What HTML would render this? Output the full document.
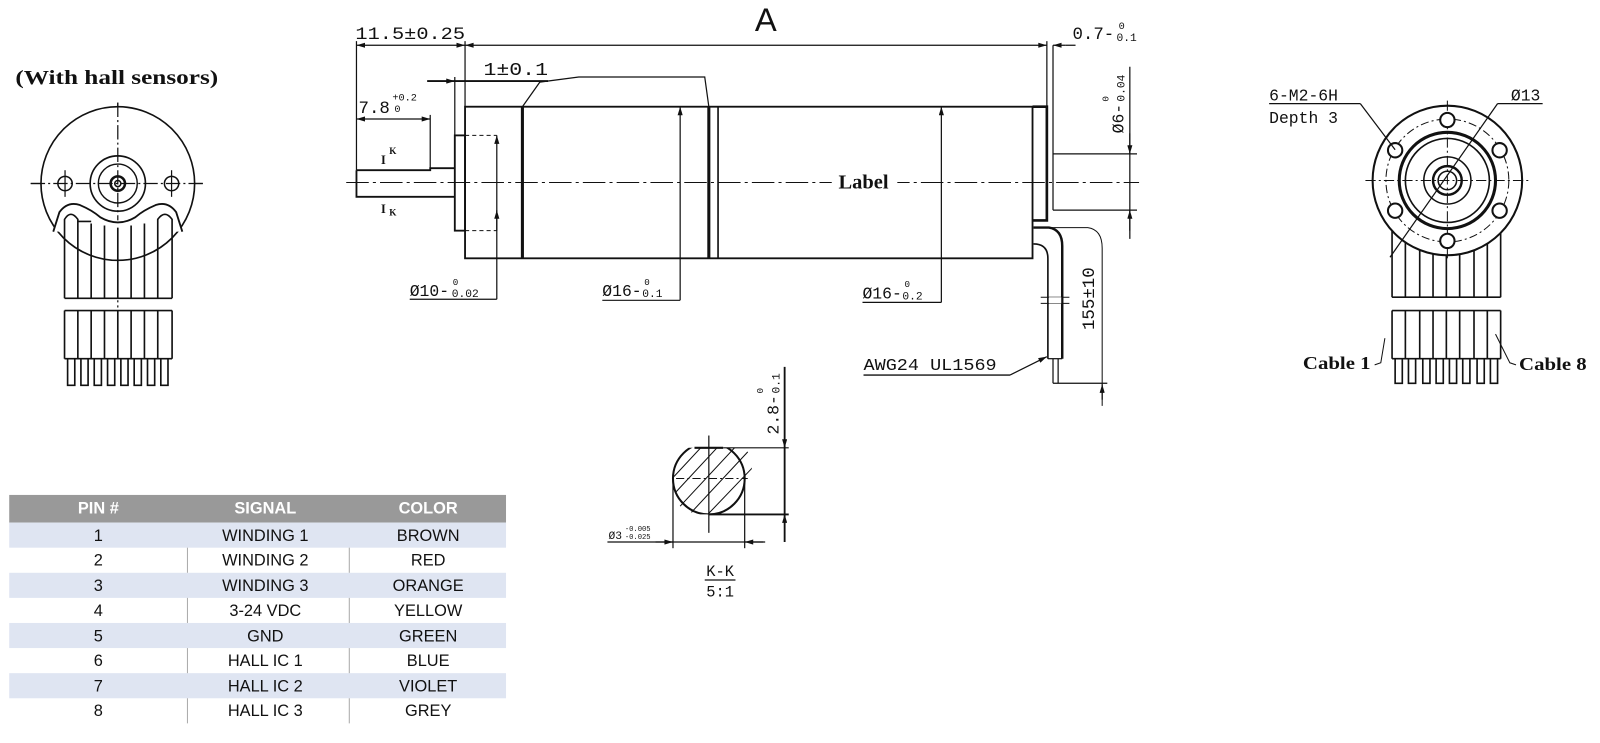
<!DOCTYPE html>
<html><head><meta charset="utf-8"><style>
html,body{margin:0;padding:0;background:#fff;}
svg{display:block;}
.t{font-family:"Liberation Mono",monospace;fill:#111;}
.s{font-family:"Liberation Serif",serif;font-weight:bold;fill:#111;}
.c{font-family:"Liberation Sans",sans-serif;fill:#111;font-size:16px;text-anchor:middle;}
</style></head><body>
<svg width="1600" height="743" viewBox="0 0 1562 725" xmlns="http://www.w3.org/2000/svg">
<defs>
<marker id="a" viewBox="0 0 10 6" refX="10" refY="3" markerWidth="9" markerHeight="5" orient="auto-start-reverse" markerUnits="userSpaceOnUse"><path d="M0,0 L10,3 L0,6z" fill="#111"/></marker>
</defs>
<g stroke="#111" fill="none" stroke-width="1.2">

<!-- ===== LEFT VIEW ===== -->
<line x1="30" y1="179" x2="200" y2="179" stroke-dasharray="14,3,2,3"/>
<line x1="115" y1="100" x2="115" y2="300" stroke-dasharray="14,3,2,3"/>
<circle cx="115" cy="179" r="75" stroke-width="1.6" fill="#fff"/>
<line x1="30" y1="179" x2="200" y2="179" stroke-dasharray="14,3,2,3"/>
<line x1="115" y1="100" x2="115" y2="215" stroke-dasharray="14,3,2,3"/>
<circle cx="115" cy="179" r="27" stroke-width="1.6"/>
<circle cx="115" cy="179" r="19" stroke-width="1.4"/>
<circle cx="115" cy="179" r="7" stroke-width="2.5"/>
<circle cx="115" cy="179" r="3" stroke-width="1.5"/>
<circle cx="63.5" cy="179" r="7" stroke-width="1.5"/>
<circle cx="167.5" cy="179" r="7" stroke-width="1.5"/>
<line x1="63.5" y1="166" x2="63.5" y2="192"/><line x1="167.5" y1="166" x2="167.5" y2="192"/>
<path d="M52,226 L58,207 Q66,196 78,200 Q90,205 98,212 Q115,222 132,212 Q140,205 152,200 Q164,196 172,207 L178,226" stroke-width="1.8" fill="#fff"/>
<g stroke-width="1.6">
<path d="M63,291 L63,214 Q69,204 76,214 L76,291 M76,216 L89,216 M89,291 L89,218 M102,291 L102,220 M115,291 L115,222 M128,291 L128,220 M141,291 L141,218 M154,291 L154,214 Q161,204 168,214 L168,291"/>
<line x1="63" y1="291" x2="168" y2="291"/>
<line x1="63" y1="303" x2="168" y2="303"/>
<path d="M63,303V350M76,303V350M89,303V350M102,303V350M115,303V350M128,303V350M141,303V350M154,303V350M168,303V350"/>
<line x1="63" y1="350" x2="168" y2="350"/>
<path d="M66,350V376H73V350M79,350V376H86V350M92,350V376H99V350M105,350V376H112V350M118,350V376H125V350M131,350V376H138V350M144,350V376H151V350M157,350V376H164V350"/>
</g>

<!-- ===== MAIN VIEW ===== -->
<line x1="338" y1="178" x2="1112" y2="178" stroke-dasharray="22,4,3,4" stroke-width="1"/>
<path d="M348,166 L348,192 L444,192 M348,166 L420,166 L420,164 L444,164" stroke-width="1.8"/>
<rect x="444" y="132" width="10" height="93" stroke-width="1.8"/>
<rect x="454" y="104" width="554" height="148" stroke-width="1.8"/>
<line x1="510" y1="104" x2="510" y2="252" stroke-width="3"/>
<line x1="692" y1="104" x2="692" y2="252" stroke-width="3"/>
<line x1="701" y1="104" x2="701" y2="252" stroke-width="1.6"/>
<path d="M1008,104 L1022,104 L1022,215 L1008,215" stroke-width="2.6"/>
<line x1="1028" y1="44" x2="1028" y2="205"/>
<line x1="1022" y1="40" x2="1022" y2="104"/>
<line x1="1028" y1="150" x2="1110" y2="150"/>
<line x1="1028" y1="205" x2="1110" y2="205"/>
<path d="M454,132 L485,132 M454,225 L485,225" stroke-dasharray="4,3" stroke-width="1"/>
<line x1="348" y1="40" x2="348" y2="166"/>
<line x1="454" y1="40" x2="454" y2="104"/>
<line x1="348" y1="44" x2="454" y2="44" marker-start="url(#a)" marker-end="url(#a)"/>
<line x1="454" y1="44" x2="1022" y2="44" marker-start="url(#a)" marker-end="url(#a)"/>
<line x1="1040" y1="44" x2="1028" y2="44" marker-end="url(#a)"/>
<line x1="1040" y1="44" x2="1050" y2="44"/>
<text class="t" x="347" y="38" font-size="17" textLength="107" lengthAdjust="spacingAndGlyphs" stroke="none">11.5±0.25</text>
<text x="737" y="30" font-family="Liberation Sans,sans-serif" font-size="32" fill="#111" stroke="none">A</text>
<text class="t" x="1047" y="38" font-size="17" stroke="none">0.7-</text>
<text class="t" x="1092" y="28" font-size="10" stroke="none">0</text>
<text class="t" x="1090" y="40" font-size="11" stroke="none">0.1</text>
<line x1="444" y1="75" x2="444" y2="132"/>
<line x1="417" y1="79" x2="535" y2="79" stroke-width="1.8"/>
<line x1="425" y1="79" x2="444" y2="79" marker-end="url(#a)"/>
<text class="t" x="472" y="73" font-size="18" textLength="63" lengthAdjust="spacingAndGlyphs" stroke="none">1±0.1</text>
<path d="M510,104 L527,80 L565,75 L688,75 L692,104"/>
<line x1="420" y1="112" x2="420" y2="164"/>
<line x1="348" y1="116" x2="420" y2="116" marker-start="url(#a)" marker-end="url(#a)"/>
<text class="t" x="350" y="110" font-size="17" stroke="none">7.8</text>
<text class="t" x="383" y="98" font-size="10" stroke="none">+0.2</text>
<text class="t" x="385" y="109" font-size="10" stroke="none">0</text>
<text class="s" x="372" y="160" font-size="12" stroke="none">I</text><text class="s" x="380" y="150" font-size="9" stroke="none">K</text>
<text class="s" x="372" y="208" font-size="12" stroke="none">I</text><text class="s" x="380" y="210" font-size="9" stroke="none">K</text>
<line x1="485" y1="132" x2="485" y2="292" marker-start="url(#a)"/>
<line x1="485" y1="225" x2="485" y2="205" marker-end="url(#a)"/>
<line x1="400" y1="292" x2="485" y2="292"/>
<text class="t" x="400" y="289" font-size="16" stroke="none">Ø10-</text>
<text class="t" x="442" y="278" font-size="9" stroke="none">0</text>
<text class="t" x="441" y="290" font-size="11" stroke="none">0.02</text>
<line x1="664" y1="104" x2="664" y2="293" marker-start="url(#a)"/>
<line x1="588" y1="293" x2="664" y2="293"/>
<text class="t" x="588" y="289" font-size="16" stroke="none">Ø16-</text>
<text class="t" x="629" y="278" font-size="9" stroke="none">0</text>
<text class="t" x="627" y="290" font-size="11" stroke="none">0.1</text>
<line x1="919" y1="104" x2="919" y2="295" marker-start="url(#a)"/>
<line x1="842" y1="295" x2="919" y2="295"/>
<text class="t" x="842" y="291" font-size="16" stroke="none">Ø16-</text>
<text class="t" x="883" y="280" font-size="9" stroke="none">0</text>
<text class="t" x="881" y="292" font-size="11" stroke="none">0.2</text>
<rect x="812" y="165" width="64" height="24" fill="#fff" stroke="none"/>
<text class="s" x="843" y="184" font-size="20" text-anchor="middle" stroke="none">Label</text>
<line x1="1103" y1="65" x2="1103" y2="233"/>
<line x1="1103" y1="130" x2="1103" y2="150" marker-end="url(#a)"/>
<line x1="1103" y1="225" x2="1103" y2="205" marker-end="url(#a)"/>
<text class="t" font-size="16" transform="translate(1097,130) rotate(-90)" stroke="none">Ø6-</text>
<text class="t" font-size="9" transform="translate(1082,99) rotate(-90)" stroke="none">0</text>
<text class="t" font-size="11" transform="translate(1098,99) rotate(-90)" stroke="none">0.04</text>
<path d="M1009,222 L1024,222 Q1037,224 1037,240 L1037,350" stroke-width="2.4"/>
<path d="M1009,238 Q1023,238 1023,252 L1023,350" stroke-width="1.6"/>
<path d="M1016,290 L1044,290 M1016,296 L1044,296" stroke-width="1"/>
<rect x="1024" y="290" width="12" height="6" fill="#fff" stroke="none"/>
<line x1="1023" y1="350" x2="1037" y2="350"/>
<path d="M1028,350 V374 M1033,350 V374" stroke-width="1.2"/>
<line x1="1028" y1="374" x2="1081" y2="374"/>
<path d="M1022,222 L1062,222 Q1076,224 1076,242 L1076,396" stroke-width="1"/>
<line x1="1076" y1="390" x2="1076" y2="375" marker-end="url(#a)"/>
<text class="t" font-size="17" transform="translate(1068,322) rotate(-90)" stroke="none">155±10</text>
<line x1="843" y1="366" x2="986" y2="366" stroke-width="1.4"/>
<line x1="986" y1="366" x2="1022" y2="348" marker-end="url(#a)"/>
<text class="t" x="843" y="361" font-size="16" textLength="130" lengthAdjust="spacingAndGlyphs" stroke="none">AWG24 UL1569</text>

<!-- ===== SECTION K-K ===== -->
<line x1="660" y1="467" x2="730" y2="467" stroke-dasharray="8,3,2,3" stroke-width="1"/>
<line x1="692" y1="425" x2="692" y2="520"/>
<clipPath id="kk"><path d="M650,437 L734,437 L734,502 L650,502z"/></clipPath>
<g clip-path="url(#kk)">
<circle cx="692" cy="467" r="35" stroke-width="2"/>
<path d="M660,480 L700,437 M664,494 L718,436 M675,500 L730,441 M690,503 L735,456 M658,465 L685,436" stroke-width="1"/>
</g>
<line x1="678" y1="437" x2="706" y2="437" stroke-width="2"/>
<line x1="706" y1="437" x2="770" y2="437"/>
<line x1="692" y1="502" x2="770" y2="502" stroke-width="1.8"/>
<line x1="766" y1="358" x2="766" y2="529" stroke-width="1.8"/>
<line x1="766" y1="420" x2="766" y2="437" marker-end="url(#a)"/>
<line x1="766" y1="520" x2="766" y2="502" marker-end="url(#a)"/>
<text class="t" font-size="16" transform="translate(760,424) rotate(-90)" stroke="none">2.8-</text>
<text class="t" font-size="9" transform="translate(745,384) rotate(-90)" stroke="none">0</text>
<text class="t" font-size="11" transform="translate(761,384) rotate(-90)" stroke="none">0.1</text>
<line x1="657" y1="467" x2="657" y2="535"/><line x1="727" y1="467" x2="727" y2="535"/>
<line x1="593" y1="529" x2="747" y2="529"/>
<line x1="640" y1="529" x2="657" y2="529" marker-end="url(#a)"/>
<line x1="745" y1="529" x2="727" y2="529" marker-end="url(#a)"/>
<text class="t" x="594" y="526" font-size="11" stroke="none">Ø3</text>
<text class="t" x="610" y="518" font-size="7" stroke="none">-0.005</text>
<text class="t" x="610" y="526" font-size="7" stroke="none">-0.025</text>
<text class="t" x="703" y="562" font-size="15" text-anchor="middle" stroke="none">K-K</text>
<line x1="688" y1="566" x2="718" y2="566"/>
<text class="t" x="703" y="582" font-size="15" text-anchor="middle" stroke="none">5:1</text>

<!-- ===== RIGHT VIEW ===== -->
<g stroke-width="1.6">
<path d="M1359,215V290M1372,215V290M1386,215V290M1399,215V290M1412,215V290M1425,215V290M1439,215V290M1452,215V290M1465,215V290"/>
<line x1="1359" y1="290" x2="1465" y2="290"/>
<line x1="1359" y1="303" x2="1465" y2="303"/>
<path d="M1359,303V350M1372,303V350M1386,303V350M1399,303V350M1412,303V350M1425,303V350M1439,303V350M1452,303V350M1465,303V350"/>
<line x1="1359" y1="350" x2="1465" y2="350"/>
<path d="M1362,350V374H1369V350M1375,350V374H1382V350M1389,350V374H1396V350M1402,350V374H1409V350M1415,350V374H1422V350M1428,350V374H1435V350M1442,350V374H1449V350M1455,350V374H1462V350"/>
</g>
<circle cx="1413" cy="176" r="73" stroke-width="2" fill="#fff"/>
<line x1="1333" y1="176" x2="1493" y2="176" stroke-dasharray="10,3,2,3" stroke-width="1"/>
<line x1="1413" y1="98" x2="1413" y2="254" stroke-dasharray="10,3,2,3" stroke-width="1"/>
<circle cx="1413" cy="176" r="60" stroke-dasharray="8,3,2,3" stroke-width="1"/>
<circle cx="1413" cy="176" r="47" stroke-width="3"/>
<circle cx="1413" cy="176" r="41" stroke-width="1.6"/>
<circle cx="1413" cy="176" r="23" stroke-width="1.5"/>
<circle cx="1413" cy="176" r="14" stroke-width="2.4"/>
<circle cx="1413" cy="176" r="9" stroke-width="1.5"/>
<g stroke-width="2" fill="#fff">
<circle cx="1413" cy="117" r="7"/><circle cx="1413" cy="235" r="7"/>
<circle cx="1362" cy="146.5" r="7"/><circle cx="1464" cy="146.5" r="7"/>
<circle cx="1362" cy="205.5" r="7"/><circle cx="1464" cy="205.5" r="7"/>
</g>
<line x1="1239" y1="101" x2="1328" y2="101"/>
<line x1="1328" y1="101" x2="1362" y2="146"/>
<line x1="1462" y1="101" x2="1506" y2="101"/>
<line x1="1462" y1="101" x2="1357" y2="251"/>
<text class="t" x="1239" y="98" font-size="16" stroke="none">6-M2-6H</text>
<text class="t" x="1239" y="120" font-size="16" stroke="none">Depth 3</text>
<text class="t" x="1475" y="98" font-size="16" stroke="none">Ø13</text>
<path d="M1342,356 L1348,354 L1352,330" stroke-width="1"/>
<path d="M1480,356 L1474,354 L1460,326" stroke-width="1"/>
<text class="s" x="1272" y="360" font-size="17" textLength="66" lengthAdjust="spacingAndGlyphs" stroke="none">Cable 1</text>
<text class="s" x="1483" y="361" font-size="17" textLength="66" lengthAdjust="spacingAndGlyphs" stroke="none">Cable 8</text>
</g>
<text class="s" x="15" y="82" font-size="20" textLength="198" lengthAdjust="spacingAndGlyphs">(With hall sensors)</text>

<!-- ===== TABLE ===== -->
<rect x="9" y="483" width="485" height="27" fill="#999"/>
<g fill="#dfe5f2">
<rect x="9" y="510" width="485" height="24.5"/>
<rect x="9" y="559" width="485" height="24.5"/>
<rect x="9" y="608" width="485" height="24.5"/>
<rect x="9" y="657" width="485" height="24.5"/>
</g>
<g stroke="#aaa" stroke-width="1">
<line x1="183" y1="534.5" x2="183" y2="559"/><line x1="341" y1="534.5" x2="341" y2="559"/>
<line x1="183" y1="583.5" x2="183" y2="608"/><line x1="341" y1="583.5" x2="341" y2="608"/>
<line x1="183" y1="632.5" x2="183" y2="657"/><line x1="341" y1="632.5" x2="341" y2="657"/>
<line x1="183" y1="681.5" x2="183" y2="706"/><line x1="341" y1="681.5" x2="341" y2="706"/>
</g>
<g class="c">
<text x="96" y="501" fill="#fff" font-weight="bold">PIN #</text>
<text x="259" y="501" fill="#fff" font-weight="bold">SIGNAL</text>
<text x="418" y="501" fill="#fff" font-weight="bold">COLOR</text>
<text x="96" y="528">1</text><text x="259" y="528">WINDING 1</text><text x="418" y="528">BROWN</text>
<text x="96" y="552">2</text><text x="259" y="552">WINDING 2</text><text x="418" y="552">RED</text>
<text x="96" y="577">3</text><text x="259" y="577">WINDING 3</text><text x="418" y="577">ORANGE</text>
<text x="96" y="601">4</text><text x="259" y="601">3-24 VDC</text><text x="418" y="601">YELLOW</text>
<text x="96" y="626">5</text><text x="259" y="626">GND</text><text x="418" y="626">GREEN</text>
<text x="96" y="650">6</text><text x="259" y="650">HALL IC 1</text><text x="418" y="650">BLUE</text>
<text x="96" y="675">7</text><text x="259" y="675">HALL IC 2</text><text x="418" y="675">VIOLET</text>
<text x="96" y="699">8</text><text x="259" y="699">HALL IC 3</text><text x="418" y="699">GREY</text>
</g>
</svg>
</body></html>
